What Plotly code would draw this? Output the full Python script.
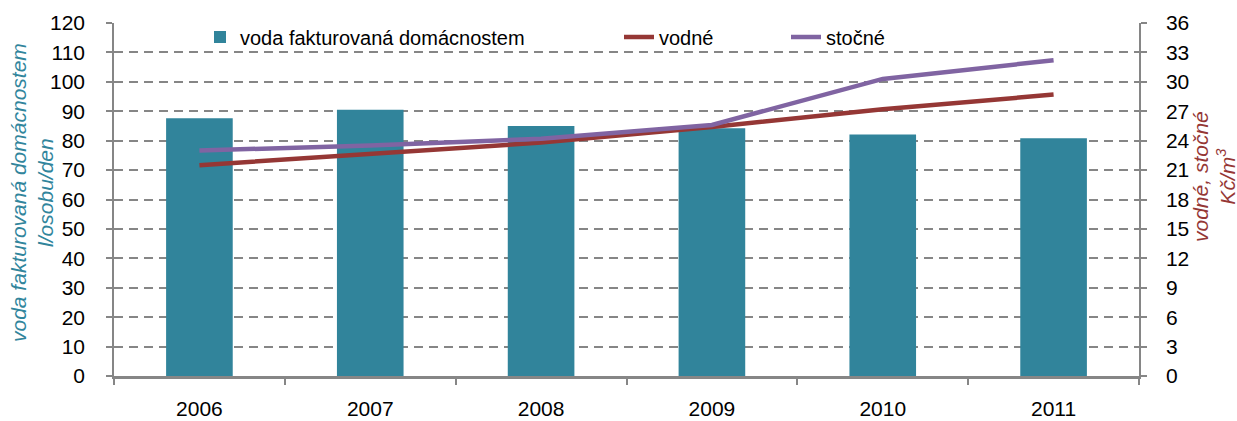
import plotly.graph_objects as go

years = ["2006", "2007", "2008", "2009", "2010", "2011"]
voda = [87.6, 90.5, 85.0, 84.2, 82.1, 80.8]
vodne = [21.5, 22.6, 23.8, 25.4, 27.2, 28.7]
stocne = [23.0, 23.5, 24.2, 25.6, 30.3, 32.2]

FONT = "Liberation Sans, Arial, sans-serif"
GRAY = "#868686"

fig = go.Figure()
fig.add_trace(go.Bar(x=years, y=voda, name="voda fakturovaná domácnostem",
                     marker=dict(color="#31849b", line=dict(width=0)), width=0.39,
                     legend="legend"))
fig.add_trace(go.Scatter(x=years, y=vodne, name="vodné", mode="lines", yaxis="y2",
                         line=dict(color="#953735", width=4.5), legend="legend2"))
fig.add_trace(go.Scatter(x=years, y=stocne, name="stočné", mode="lines", yaxis="y2",
                         line=dict(color="#8064a2", width=4.5), legend="legend3"))

W, L, R = 1237, 114, 98
T, B = 23, 45
pw = W - L - R
ph = 421 - T - B

def px(x):
    return (x - L) / pw

def py(y):
    return (421 - B - y) / ph

legend_common = dict(orientation="h", yanchor="middle", y=py(37), xanchor="left",
                     bgcolor="rgba(0,0,0,0)", font=dict(family=FONT, size=20, color="black"),
                     borderwidth=0)

fig.update_layout(
    width=1237, height=421,
    margin=dict(l=L, r=R, t=T, b=B, autoexpand=False),
    paper_bgcolor="white", plot_bgcolor="white",
    font=dict(family=FONT, size=21, color="black"),
    showlegend=True,
    legend=dict(legend_common, x=px(200)),
    legend2=dict(legend_common, x=px(619)),
    legend3=dict(legend_common, x=px(786)),
    xaxis=dict(type="category", range=[-0.5, 5.5], showline=True, linecolor=GRAY, linewidth=3,
               ticks="outside", tickson="boundaries", ticklen=6, tickcolor=GRAY, tickwidth=1.5,
               showgrid=False, ticklabelstandoff=12, tickfont=dict(size=21), automargin=False),
    yaxis=dict(range=[0, 120], dtick=10, showgrid=True, gridcolor=GRAY, gridwidth=2,
               griddash="9px,6px", showline=True, linecolor=GRAY, linewidth=1.5,
               ticks="outside", ticklen=6, tickcolor=GRAY, tickwidth=1.5, zeroline=False,
               ticklabelstandoff=17, tickfont=dict(size=21), automargin=False),
    yaxis2=dict(range=[0, 36], dtick=3, overlaying="y", side="right", showgrid=False,
                showline=True, linecolor=GRAY, linewidth=1.5, ticks="outside", ticklen=6,
                tickcolor=GRAY, tickwidth=1.5, zeroline=False, ticklabelstandoff=15,
                tickfont=dict(size=21), automargin=False),
    annotations=[
        dict(text="<i>voda fakturovaná domácnostem<br>l/osobu/den</i>", textangle=-90,
             xref="paper", yref="paper", x=px(32), y=py(193), xanchor="center", yanchor="middle",
             showarrow=False, font=dict(family=FONT, size=21, color="#31859c")),
        dict(text="<i>vodné, stočné<br>Kč/m<sup>3</sup></i>", textangle=-90,
             xref="paper", yref="paper", x=px(1214), y=py(177), xanchor="center", yanchor="middle",
             showarrow=False, font=dict(family=FONT, size=21, color="#953735")),
    ],
)

fig.write_html("out.html", config={"displayModeBar": False},
               post_script="document.body.style.margin='0px';")
